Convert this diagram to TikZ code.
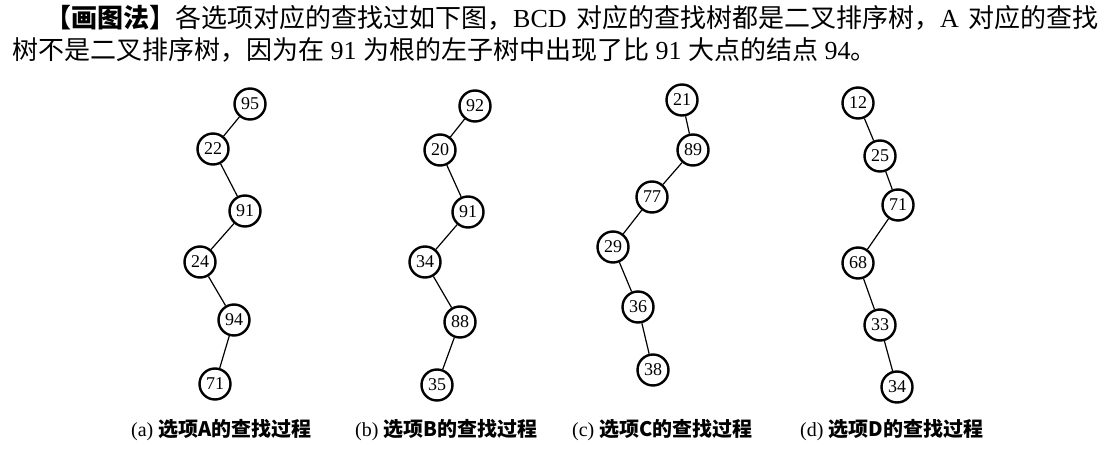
\documentclass[tikz,border=0pt]{standalone}
\usepackage{fontspec}
\setmainfont{Liberation Serif}
\newfontfamily\cjk{Noto Sans CJK SC}
\begin{document}
\begin{tikzpicture}[x=1pt,y=-1pt,
  nd/.style={circle, draw, line width=2.4pt, minimum size=31pt, inner sep=0pt, font=\fontsize{18}{18}\selectfont},
  edge/.style={line width=1.2pt},
  txt/.style={anchor=base west, inner sep=0pt, font=\fontsize{26}{26}\selectfont},
  captxt/.style={anchor=base west, inner sep=0pt, font=\fontsize{20}{20}\selectfont}]
\useasboundingbox (0,0) rectangle (1120,449);
\XeTeXlinebreaklocale "zh"
\XeTeXlinebreakskip=0pt plus 2pt
% header text
\node[txt] (l1) at (45,28) {\makebox[1053pt][s]{{\cjk\bfseries 【画图法】}{\cjk 各选项对应的查找过如下图，}BCD {\cjk 对应的查找树都是二叉排序树，}A {\cjk 对应的查找}}};
\node[txt] (l2) at (12,60) {{\cjk 树不是二叉排序树，因为在} 91 {\cjk 为根的左子树中出现了比} 91 {\cjk 大点的结点} 94{\cjk 。}};
% tree A
\node[nd] (a1) at (250,104) {95};
\node[nd] (a2) at (213,149) {22};
\node[nd] (a3) at (245,211) {91};
\node[nd] (a4) at (200,262) {24};
\node[nd] (a5) at (234,320) {94};
\node[nd] (a6) at (215,384) {71};
\draw[edge] (a1) -- (a2) -- (a3) -- (a4) -- (a5) -- (a6);
% tree B
\node[nd] (b1) at (475,106) {92};
\node[nd] (b2) at (440,150) {20};
\node[nd] (b3) at (468,212) {91};
\node[nd] (b4) at (425,262) {34};
\node[nd] (b5) at (460,322) {88};
\node[nd] (b6) at (437,385) {35};
\draw[edge] (b1) -- (b2) -- (b3) -- (b4) -- (b5) -- (b6);
% tree C
\node[nd] (c1) at (682,100) {21};
\node[nd] (c2) at (693,150) {89};
\node[nd] (c3) at (652,197) {77};
\node[nd] (c4) at (613,247) {29};
\node[nd] (c5) at (638,307) {36};
\node[nd] (c6) at (653,370) {38};
\draw[edge] (c1) -- (c2) -- (c3) -- (c4) -- (c5) -- (c6);
% tree D
\node[nd] (d1) at (858,103) {12};
\node[nd] (d2) at (880,156) {25};
\node[nd] (d3) at (898,205) {71};
\node[nd] (d4) at (858,263) {68};
\node[nd] (d5) at (880,325) {33};
\node[nd] (d6) at (897,387) {34};
\draw[edge] (d1) -- (d2) -- (d3) -- (d4) -- (d5) -- (d6);
% captions
\node[captxt] (ca) at (131,436) {(a) {\cjk\bfseries 选项A的查找过程}};
\node[captxt] (cb) at (355,436) {(b) {\cjk\bfseries 选项B的查找过程}};
\node[captxt] (cc) at (572,436) {(c) {\cjk\bfseries 选项C的查找过程}};
\node[captxt] (cd) at (800,436) {(d) {\cjk\bfseries 选项D的查找过程}};
\end{tikzpicture}
\end{document}
